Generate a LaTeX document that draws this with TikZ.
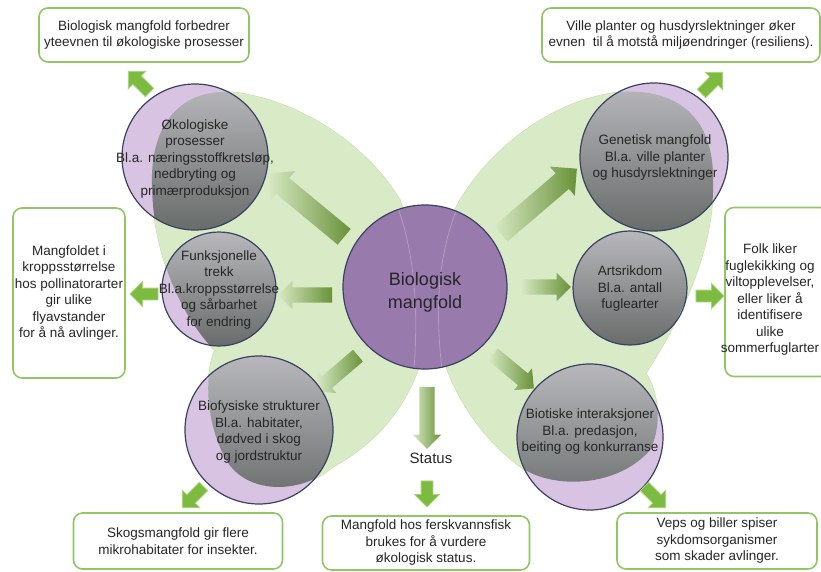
\documentclass[tikz,border=0pt]{standalone}
\usepackage{fontspec}
\setmainfont{Liberation Sans}
\usetikzlibrary{shapes.arrows}

\definecolor{wingfill}{RGB}{216,234,198}
\definecolor{wingedge}{RGB}{196,222,170}
\definecolor{lavend}{RGB}{216,196,226}
\definecolor{ringcol}{RGB}{58,66,98}
\definecolor{midpurple}{RGB}{152,122,172}
\definecolor{shadetop}{RGB}{184,184,188}
\definecolor{shadebot}{RGB}{104,108,106}
\definecolor{boxgreen}{RGB}{146,198,100}
\definecolor{arrowfill}{RGB}{124,186,64}
\definecolor{arrowedge}{RGB}{170,212,124}
\definecolor{headgreen}{RGB}{104,146,56}
\definecolor{tailgreen}{RGB}{216,233,196}
\definecolor{txt}{RGB}{38,38,38}

% wing outlines (pixel coordinates, y downwards)
\newcommand{\wingUL}{(418,340) .. controls (420,280) and (412,235) .. (400,200)
  .. controls (370,150) and (310,105) .. (240,93)
  .. controls (185,85) and (150,120) .. (152,185)
  .. controls (153,260) and (185,320) .. (214,350)
  .. controls (270,360) and (370,350) .. (418,340) -- cycle}
\newcommand{\wingLL}{(432,300) .. controls (428,370) and (400,430) .. (333,467)
  .. controls (300,495) and (245,495) .. (225,458)
  .. controls (205,420) and (205,375) .. (214,352)
  .. controls (260,325) and (380,300) .. (432,300) -- cycle}
\newcommand{\wingUR}{(436,340) .. controls (434,280) and (440,235) .. (460,200)
  .. controls (490,150) and (550,100) .. (620,92)
  .. controls (680,88) and (712,120) .. (713,175)
  .. controls (716,250) and (680,320) .. (645,375)
  .. controls (580,360) and (480,345) .. (436,340) -- cycle}
\newcommand{\wingLR}{(436,320) .. controls (440,380) and (480,440) .. (525,470)
  .. controls (560,490) and (620,485) .. (650,450)
  .. controls (665,420) and (655,385) .. (645,372)
  .. controls (610,320) and (500,300) .. (436,320) -- cycle}

\tikzset{
  wing/.style={fill=wingfill, draw=wingedge, line width=1pt},
  satcirc/.style={circle, fill=lavend, inner sep=0pt},
  ring/.style={draw=ringcol, line width=1.2pt},
  overlap/.style={top color=shadetop, bottom color=shadebot},
  circtext/.style={align=center, text=txt, font=\fontsize{13.5}{16.5}\selectfont},
  infobox/.style={draw=boxgreen, line width=1.6pt, rounded corners=9pt, fill=white,
    align=center, text=txt, inner sep=0pt, font=\fontsize{13.5}{16.5}\selectfont},
  bigarrow/.style={single arrow, inner xsep=0pt, inner ysep=10pt,
    single arrow head extend=9pt, left color=tailgreen, right color=headgreen},
  midarrow/.style={single arrow, inner xsep=0pt, inner ysep=7.5pt,
    single arrow head extend=6.5pt, left color=tailgreen, right color=headgreen},
  smallarrow/.style={single arrow, inner xsep=0pt, inner ysep=5.5pt,
    single arrow head extend=6.5pt, minimum height=30pt, fill=arrowfill,
    draw=arrowedge, line width=0.8pt}
}

\begin{document}
\begin{tikzpicture}[x=1pt, y=-1pt]
	\useasboundingbox (0,0) rectangle (821,572);
	\fill[white] (0,0) rectangle (821,572);

	% wings
	\filldraw[wing] \wingUL;
	\filldraw[wing] \wingLL;
	\filldraw[wing] \wingUR;
	\filldraw[wing] \wingLR;
	\fill[wingfill] \wingUL;
	\fill[wingfill] \wingLL;
	\fill[wingfill] \wingUR;
	\fill[wingfill] \wingLR;

	% arrows from the centre
	\coordinate (tOko) at (348,240); \coordinate (hOko) at (272,177);
	\coordinate (tFunk) at (336,295); \coordinate (hFunk) at (282,295);
	\coordinate (tBiof) at (361,353); \coordinate (hBiof) at (319,389);
	\coordinate (tStat) at (427,383); \coordinate (hStat) at (427,445);
	\coordinate (tBiot) at (490,352); \coordinate (hBiot) at (531,386);
	\coordinate (tArts) at (517,287); \coordinate (hArts) at (567,287);
	\coordinate (tGen) at (497,237); \coordinate (hGen) at (573,172);
	\path (tOko) -- node[bigarrow, sloped, allow upside down, minimum height=99pt] (aOko) {} (hOko);
	\path (tFunk) -- node[midarrow, sloped, allow upside down, minimum height=54pt] (aFunk) {} (hFunk);
	\path (tBiof) -- node[midarrow, sloped, allow upside down, minimum height=55pt] (aBiof) {} (hBiof);
	\path (tStat) -- node[midarrow, sloped, allow upside down, minimum height=62pt] (aStat) {} (hStat);
	\path (tBiot) -- node[midarrow, sloped, allow upside down, minimum height=53pt] (aBiot) {} (hBiot);
	\path (tArts) -- node[midarrow, sloped, allow upside down, minimum height=50pt] (aArts) {} (hArts);
	\path (tGen) -- node[bigarrow, sloped, allow upside down, minimum height=100pt] (aGen) {} (hGen);

	% centre
	\node[circle, fill=midpurple, inner sep=0pt, minimum size=164pt] (bio) at (425,287) {};
	\begin{scope}
	\clip (bio.center) circle [radius=82pt];
	\draw[white, opacity=0.25, line width=0.8pt] (397,205) .. controls (413,250) and (419,300) .. (414,370);
	\draw[white, opacity=0.25, line width=0.8pt] (458,206) .. controls (440,250) and (434,300) .. (442,370);
	\end{scope}
	\draw[ring] (bio.center) circle [radius=82pt];
	\node[circtext, font=\fontsize{18}{23}\selectfont] (biotxt) at (425,292) {Biologisk\\mangfold};

	% Okologiske prosesser
	\node[satcirc, minimum size=146pt] (oko) at (195,157) {};
	\begin{scope}
	\clip (oko.center) circle [radius=73pt];
	\clip \wingUL;
	\shade[overlap] (122,84) rectangle (268,230);
	\end{scope}
	\draw[ring] (oko.center) circle [radius=73pt];
	\node[circtext] (okotxt) at (195,159) {Økologiske\\prosesser\\Bl.a. næringsstoffkretsløp,\\nedbryting og\\primærproduksjon};

	% Funksjonelle trekk
	\node[satcirc, minimum size=114pt] (funk) at (219,289) {};
	\begin{scope}
	\clip (funk.center) circle [radius=57pt];
	\clip \wingUL;
	\shade[overlap] (162,232) rectangle (276,346);
	\end{scope}
	\begin{scope}
	\clip (funk.center) circle [radius=57pt];
	\clip \wingLL;
	\shade[overlap] (162,232) rectangle (276,346);
	\end{scope}
	\draw[ring] (funk.center) circle [radius=57pt];
	\node[circtext] (funktxt) at (219,290) {Funksjonelle\\trekk\\Bl.a.kroppsstørrelse\\og sårbarhet\\for endring};

	% Biofysiske strukturer
	\node[satcirc, minimum size=148pt] (biof) at (259,430) {};
	\begin{scope}
	\clip (biof.center) circle [radius=74pt];
	\clip \wingLL;
	\shade[overlap] (185,356) rectangle (333,504);
	\end{scope}
	\draw[ring] (biof.center) circle [radius=74pt];
	\node[circtext] (bioftxt) at (259,432) {Biofysiske strukturer\\Bl.a. habitater,\\dødved i skog\\og jordstruktur};

	% Genetisk mangfold
	\node[satcirc, minimum size=148pt] (gen) at (654,157) {};
	\begin{scope}
	\clip (gen.center) circle [radius=74pt];
	\clip \wingUR;
	\shade[overlap] (580,83) rectangle (728,231);
	\end{scope}
	\draw[ring] (gen.center) circle [radius=74pt];
	\node[circtext] (gentxt) at (655,158) {Genetisk mangfold\\Bl.a. ville planter\\og husdyrslektninger};

	% Artsrikdom
	\node[satcirc, minimum size=114pt] (arts) at (630,288) {};
	\begin{scope}
	\clip (arts.center) circle [radius=57pt];
	\clip \wingUR;
	\shade[overlap] (573,231) rectangle (687,345);
	\end{scope}
	\begin{scope}
	\clip (arts.center) circle [radius=57pt];
	\clip \wingLR;
	\shade[overlap] (573,231) rectangle (687,345);
	\end{scope}
	\draw[ring] (arts.center) circle [radius=57pt];
	\node[circtext] (artstxt) at (630,289) {Artsrikdom\\Bl.a. antall\\fuglearter};

	% Biotiske interaksjoner
	\node[satcirc, minimum size=146pt] (biot) at (590,437) {};
	\begin{scope}
	\clip (biot.center) circle [radius=73pt];
	\clip \wingLR;
	\shade[overlap] (517,364) rectangle (663,510);
	\end{scope}
	\draw[ring] (biot.center) circle [radius=73pt];
	\node[circtext] (biottxt) at (590,432) {Biotiske interaksjoner\\Bl.a. predasjon,\\beiting og konkurranse};

	\node[circtext, font=\fontsize{15}{18}\selectfont] (status) at (431,458) {Status};

	% small arrows towards the boxes
	\node[smallarrow, rotate=135] (pOko) at (141,84) {};
	\node[smallarrow, rotate=180, minimum height=28pt] (pFunk) at (147,294) {};
	\node[smallarrow, rotate=225] (pBiof) at (195,495) {};
	\node[smallarrow, rotate=270, minimum height=26pt] (pStat) at (427,491) {};
	\node[smallarrow, rotate=315] (pBiot) at (653,495) {};
	\node[smallarrow, minimum height=28pt] (pArts) at (707,296) {};
	\node[smallarrow, rotate=45] (pGen) at (710,85) {};

	% boxes
	\node[infobox, minimum width=210pt, minimum height=54pt] (boxOko) at (144,35) {Biologisk mangfold forbedrer\\yteevnen til økologiske prosesser};
	\node[infobox, minimum width=278pt, minimum height=54pt] (boxGen) at (681,35) {Ville planter og husdyrslektninger øker\\evnen\ \ til å motstå miljøendringer (resiliens).};
	\node[infobox, minimum width=112pt, minimum height=170pt] (boxFunk) at (69,293) {Mangfoldet i\\kroppsstørrelse\\hos pollinatorarter\\gir ulike\\flyavstander\\for å nå avlinger.};
	\node[infobox, minimum width=104pt, minimum height=169pt] (boxArts) at (777,292) {};
	\node[circtext] (boxArtstxt) at (770,300) {Folk liker\\fuglekikking og\\viltopplevelser,\\eller liker å\\identifisere\\ulike\\sommerfuglarter};
	\node[infobox, minimum width=209pt, minimum height=56pt] (boxBiof) at (178,541) {Skogsmangfold gir flere\\mikrohabitater for insekter.};
	\node[infobox, minimum width=207pt, minimum height=54pt] (boxStat) at (426,543) {Mangfold hos ferskvannsfisk\\brukes for å vurdere\\økologisk status.};
	\node[infobox, minimum width=200pt, minimum height=56pt] (boxBiot) at (717,541) {Veps og biller spiser\\sykdomsorganismer\\som skader avlinger.};
\end{tikzpicture}
\end{document}
